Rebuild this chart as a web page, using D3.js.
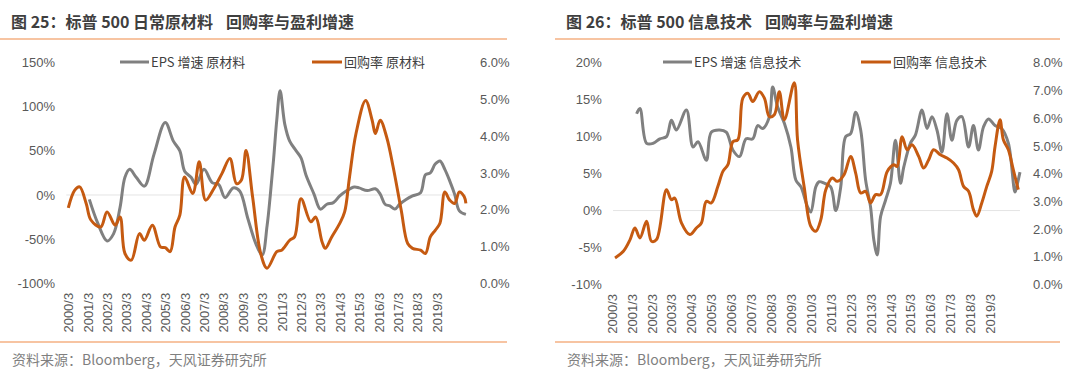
<!DOCTYPE html>
<meta charset="utf-8">
<script src="https://d3js.org/d3.v7.min.js"></script>
<style>
body { margin: 0; background: #fff; }
svg { display: block; font-family: "Noto Sans CJK SC", "Noto Sans", sans-serif; }
.axis text { font-size: 13px; fill: #595959; }
.axis path, .axis line { display: none; }
.title { font-size: 16px; font-weight: bold; fill: #3f3f3f; }
.source { font-size: 14px; fill: #7f7f7f; }
.rule { stroke: #f4b183; stroke-width: 1.5px; }
.zero { stroke: #e4e4e4; stroke-width: 1px; }
.epsLine { fill: none; stroke: #808080; stroke-width: 3; stroke-linejoin: round; }
.buyLine { fill: none; stroke: #c55a11; stroke-width: 3; stroke-linejoin: round; }
.legend text { font-size: 13px; fill: #404040; }
</style>
<body></body>
<script>

// x tick labels (one per year, March)
const yearTicks = ["2000/3","2001/3","2002/3","2003/3","2004/3","2005/3","2006/3","2007/3","2008/3","2009/3",
  "2010/3","2011/3","2012/3","2013/3","2014/3","2015/3","2016/3","2017/3","2018/3","2019/3"];

// S&P 500 materials: EPS growth (%), left axis
const matEpsGrowth = [["2001-04",-5],["2001-09",-31],["2002-03",-52],["2002-07",-44],["2002-11",-14],["2003-02",20],
  ["2003-05",29],["2003-09",20],["2004-02",10],["2004-08",46],["2005-03",82],["2005-08",61],["2005-12",50],["2006-03",27],
  ["2006-07",20],["2006-10",12],["2007-03",29],["2007-08",14],["2007-12",12],["2008-04",-3],["2008-09",8],["2009-01",4.5],
  ["2009-06",-26],["2009-11",-55],["2010-03",-68],["2010-06",-35],["2010-08",0],["2010-10",40],["2010-12",85],["2011-02",118],
  ["2011-05",80],["2011-08",61],["2011-12",50],["2012-03",42],["2012-06",23],["2012-11",1],["2013-03",-16],["2013-07",-10.5],
  ["2013-11",-8.7],["2014-03",-1],["2014-07",4.5],["2014-12",9],["2015-03",8],["2015-08",5],["2016-01",7],["2016-04",1],
  ["2016-07",-10.5],["2016-10",-12.4],["2017-01",-16],["2017-04",-10.5],["2017-08",-5],["2017-12",-1],["2018-05",2.6],
  ["2018-08",23],["2018-11",25],["2019-02",35],["2019-05",38.5],["2019-08",29],["2019-11",16],["2020-02",1],["2020-05",-18],
  ["2020-09",-22]];

// S&P 500 materials: buyback rate (%), right axis
const matBuyback = [["2000-03",2.05],["2000-07",2.53],["2000-10",2.62],["2001-02",2.17],["2001-05",1.72],["2001-11",1.53],
  ["2002-03",1.94],["2002-08",1.58],["2002-11",1.8],["2003-02",0.81],["2003-06",0.63],["2003-11",1.35],["2004-02",1.17],
  ["2004-07",1.58],["2004-12",0.99],["2005-03",0.97],["2005-06",0.86],["2005-09",1.53],["2005-12",1.85],["2006-03",2.89],
  ["2006-08",2.44],["2006-12",3.3],["2007-04",2.26],["2007-09",2.57],["2008-02",2.98],["2008-07",3.39],["2008-11",2.71],
  ["2009-02",2.8],["2009-05",3.61],["2009-09",2.35],["2010-02",0.81],["2010-06",0.41],["2010-12",0.86],["2011-03",0.9],
  ["2011-08",1.17],["2011-11",1.26],["2012-03",2.3],["2012-09",1.67],["2012-12",1.8],["2013-04",1.13],["2013-06",0.95],
  ["2013-10",1.26],["2014-03",1.63],["2014-06",1.94],["2014-09",2.89],["2015-01",4.07],["2015-07",4.97],["2015-11",4.43],
  ["2016-01",4.07],["2016-04",4.43],["2016-08",3.97],["2016-12",3.16],["2017-05",1.99],["2017-09",1.08],["2017-12",0.95],
  ["2018-05",0.9],["2018-08",0.81],["2018-11",1.26],["2019-02",1.44],["2019-05",1.63],["2019-08",2.48],["2019-11",2.26],
  ["2020-02",2.17],["2020-05",2.48],["2020-08",2.35],["2020-09",2.17]];

// S&P 500 information technology: EPS growth (%), left axis
const techEpsGrowth = [["2001-06",13.1],["2001-08",13.8],["2001-12",9.1],["2002-04",9.1],["2002-08",9.7],["2002-12",10],
  ["2003-03",12.2],["2003-06",10.9],["2003-12",13.6],["2004-04",8.6],["2004-07",9.3],["2004-12",6.8],["2005-03",10.6],
  ["2005-08",10.9],["2005-12",10.6],["2006-04",8.2],["2006-08",7.3],["2006-12",9.7],["2007-04",9.7],["2007-07",11.5],
  ["2007-10",11.1],["2008-02",12.7],["2008-04",16.7],["2008-07",14],["2008-11",11.8],["2009-03",8.6],["2009-06",4.1],
  ["2009-09",3.2],["2010-01",0.5],["2010-03",-0.2],["2010-06",3.2],["2010-08",3.9],["2010-11",3.7],["2011-03",3.2],
  ["2011-06",0],["2011-09",3.2],["2011-12",10],["2012-03",10.4],["2012-06",13.3],["2012-09",10.9],["2012-12",4.1],
  ["2013-03",0.5],["2013-05",-4],["2013-07",-6],["2013-09",-0.8],["2013-12",1.4],["2014-03",3.7],["2014-06",9.5],
  ["2014-09",3.7],["2014-11",5.9],["2015-03",9.1],["2015-06",10.2],["2015-10",13.6],["2016-01",11.1],["2016-04",12.7],
  ["2016-07",10.9],["2016-10",7.9],["2017-01",13.1],["2017-04",9.5],["2017-07",12.2],["2017-10",12.7],["2018-02",8.6],
  ["2018-05",11.5],["2018-08",8.2],["2018-11",11.3],["2019-02",12.4],["2019-06",11.5],["2019-10",11.1],["2020-02",9.1],
  ["2020-06",2.5],["2020-07",3.2],["2020-09",5.2]];

// S&P 500 information technology: buyback rate (%), right axis
const techBuyback = [["2000-05",0.96],["2000-10",1.2],["2001-02",1.62],["2001-05",2.04],["2001-08",1.68],["2001-12",2.28],
  ["2002-03",1.56],["2002-06",1.62],["2002-12",3.42],["2003-03",3.06],["2003-05",3.12],["2003-09",2.22],["2004-02",1.8],
  ["2004-06",2.04],["2004-09",2.22],["2004-12",3.0],["2005-03",2.94],["2005-07",3.54],["2005-10",4.08],["2006-01",4.32],
  ["2006-04",5.15],["2006-07",5.22],["2006-10",6.72],["2007-01",6.9],["2007-04",6.6],["2007-08",6.95],["2007-11",6.72],
  ["2008-02",6.05],["2008-05",6.12],["2008-08",6.95],["2008-11",5.94],["2009-05",7.28],["2009-07",5.22],["2009-11",3.5],
  ["2010-03",2.1],["2010-06",1.92],["2010-09",2.34],["2010-12",3.42],["2011-04",3.84],["2011-07",3.72],["2011-11",3.96],
  ["2012-03",4.62],["2012-06",4.02],["2012-09",3.3],["2012-12",3.36],["2013-03",2.94],["2013-06",3.24],["2013-09",3.24],
  ["2014-01",4.08],["2014-05",4.32],["2014-07",4.26],["2014-10",5.33],["2015-01",4.86],["2015-04",5.04],["2015-08",4.62],
  ["2015-11",4.2],["2016-02",4.5],["2016-05",4.86],["2016-09",4.68],["2017-01",4.56],["2017-05",4.38],["2017-08",4.14],
  ["2017-11",3.54],["2018-02",3.36],["2018-05",2.7],["2018-07",2.46],["2018-10",2.94],["2019-01",3.54],["2019-04",4.08],
  ["2019-06",4.97],["2019-09",5.94],["2019-11",5.22],["2020-02",4.86],["2020-05",4.14],["2020-08",3.42]];

const matLeftTicks = [-100, -50, 0, 50, 100, 150];
const matRightTicks = [0, 1, 2, 3, 4, 5, 6];
const techLeftTicks = [-10, -5, 0, 5, 10, 15, 20];
const techRightTicks = [0, 1, 2, 3, 4, 5, 6, 7, 8];

const parseMonth = d3.timeParse("%Y-%m");
const parseTick = d3.timeParse("%Y/%m");
const sourceText = "资料来源：Bloomberg，天风证券研究所";

const svg = d3.select("body").append("svg")
  .attr("width", 1080)
  .attr("height", 379);

const panels = [
  { title: ["图 25：标普 500 日常原材料", "回购率与盈利增速"],
    epsLabel: "EPS 增速 原材料", buyLabel: "回购率 原材料",
    eps: matEpsGrowth, buy: matBuyback, leftTicks: matLeftTicks, rightTicks: matRightTicks,
    ruleL: 0, ruleR: 507, textX: 11, axisL: 55, x0: 68.3, x1: 436.7, axisR: 480,
    top: 62.5, bottom: 283.3, legEps: 120, legBuy: 312 },
  { title: ["图 26：标普 500 信息技术", "回购率与盈利增速"],
    epsLabel: "EPS 增速 信息技术", buyLabel: "回购率 信息技术",
    eps: techEpsGrowth, buy: techBuyback, leftTicks: techLeftTicks, rightTicks: techRightTicks,
    ruleL: 555, ruleR: 1060, textX: 566, axisL: 601.7, x0: 611.7, x1: 990, axisR: 1033,
    top: 62.7, bottom: 284.5, legEps: 663, legBuy: 861 }
];

panels.forEach(drawPanel);

function drawPanel(p) {
  const g = svg.append("g");

  // title (two parts, wider gap between them) + rules
  const title = g.append("text").attr("class", "title").attr("x", p.textX).attr("y", 28);
  title.append("tspan").text(p.title[0]);
  title.append("tspan").attr("dx", 13).text(p.title[1]);
  g.append("line").attr("class", "rule").attr("x1", p.ruleL).attr("x2", p.ruleR).attr("y1", 39).attr("y2", 39);
  g.append("line").attr("class", "rule").attr("x1", p.ruleL).attr("x2", p.ruleR).attr("y1", 342).attr("y2", 342);
  g.append("text").attr("class", "source").attr("x", p.textX + 1).attr("y", 365).text(sourceText);

  const tickDates = yearTicks.map(parseTick);
  const x = d3.scaleTime()
    .domain([tickDates[0], tickDates[tickDates.length - 1]])
    .range([p.x0, p.x1]);

  const yL = d3.scaleLinear()
    .domain(d3.extent(p.leftTicks))
    .range([p.bottom, p.top]);

  const yR = d3.scaleLinear()
    .domain(d3.extent(p.rightTicks))
    .range([p.bottom, p.top]);

  // left axis
  g.append("g").attr("class", "axis")
    .attr("transform", "translate(" + p.axisL + ",0)")
    .call(d3.axisLeft(yL).tickValues(p.leftTicks).tickSize(0).tickPadding(0)
      .tickFormat(d => d + "%"));

  // right axis
  g.append("g").attr("class", "axis")
    .attr("transform", "translate(" + p.axisR + ",0)")
    .call(d3.axisRight(yR).tickValues(p.rightTicks).tickSize(0).tickPadding(0)
      .tickFormat(d => d.toFixed(1) + "%"));

  // x axis, rotated labels
  g.append("g").attr("class", "axis")
    .attr("transform", "translate(0," + (p.bottom + 1.5) + ")")
    .call(d3.axisBottom(x).tickValues(tickDates).tickSize(0)
      .tickFormat((d, i) => yearTicks[i]))
    .selectAll("text")
      .attr("transform", "rotate(-90)")
      .attr("x", -8)
      .attr("y", 0)
      .attr("dy", "0.35em")
      .style("text-anchor", "end");

  const epsData = p.eps.map(d => ({ date: parseMonth(d[0]), value: d[1] }));
  const buyData = p.buy.map(d => ({ date: parseMonth(d[0]), value: d[1] }));

  // zero gridline of the left axis
  const firstDate = d3.min(buyData.concat(epsData), d => d.date);
  const lastDate = d3.max(buyData.concat(epsData), d => d.date);
  g.append("line").attr("class", "zero")
    .attr("x1", x(firstDate) - 2).attr("x2", x(lastDate))
    .attr("y1", yL(0)).attr("y2", yL(0));

  const epsLine = d3.line()
    .x(d => x(d.date))
    .y(d => yL(d.value))
    .curve(d3.curveCatmullRom.alpha(0.5));

  const buyLine = d3.line()
    .x(d => x(d.date))
    .y(d => yR(d.value))
    .curve(d3.curveCatmullRom.alpha(0.5));

  g.append("path").attr("class", "epsLine").attr("d", epsLine(epsData));
  g.append("path").attr("class", "buyLine").attr("d", buyLine(buyData));

  // legend
  const legend = g.append("g").attr("class", "legend");
  legend.append("line").attr("class", "epsLine")
    .attr("x1", p.legEps).attr("x2", p.legEps + 29).attr("y1", 62).attr("y2", 62);
  legend.append("text").attr("x", p.legEps + 31).attr("y", 66.5).text(p.epsLabel);
  legend.append("line").attr("class", "buyLine")
    .attr("x1", p.legBuy).attr("x2", p.legBuy + 30).attr("y1", 62).attr("y2", 62);
  legend.append("text").attr("x", p.legBuy + 32).attr("y", 66.5).text(p.buyLabel);
}

</script>
